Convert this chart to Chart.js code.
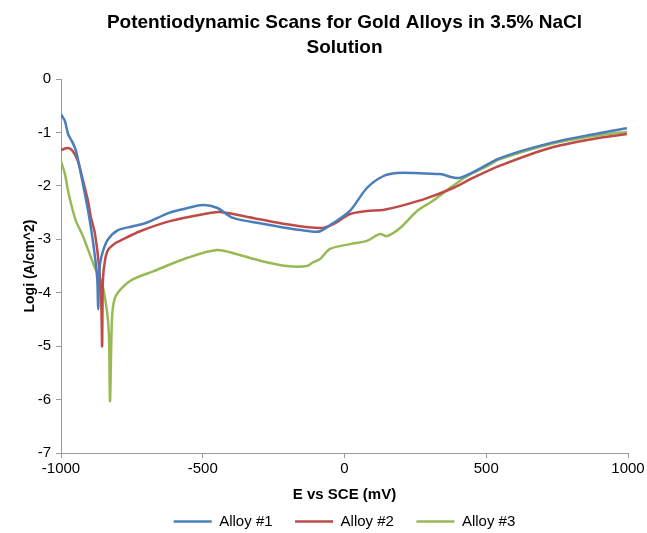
<!DOCTYPE html>
<html>
<head>
<meta charset="utf-8">
<script src="https://cdn.jsdelivr.net/npm/chart.js@4.4.1/dist/chart.umd.min.js"></script>
<style>
  html, body { margin: 0; padding: 0; background: #fff; }
  #wrap { width: 647px; height: 533px; }
</style>
</head>
<body>
<div id="wrap"><canvas id="scanChart"></canvas></div>
<script>
// E vs SCE (mV) and log i values
const alloy1E = [-1000, -986, -975, -958, -947, -925, -900, -882, -872, -869, -866, -862, -852, -834, -799, -750, -704, -616, -556, -499, -450, -393, -298, -203, -122, -86, -41, 19, 79, 136, 185, 250, 337, 407, 549, 725, 901, 996];
const alloy1Log = [-0.66, -0.79, -1.03, -1.2, -1.35, -1.9, -2.6, -3.25, -3.75, -4.31, -3.75, -3.45, -3.22, -3.0, -2.83, -2.76, -2.7, -2.5, -2.42, -2.36, -2.41, -2.6, -2.7, -2.79, -2.85, -2.85, -2.7, -2.47, -2.04, -1.82, -1.76, -1.76, -1.78, -1.85, -1.48, -1.2, -1.01, -0.92];

const alloy2E = [-1000, -975, -958, -940, -922, -905, -894, -880, -866, -858, -855, -852, -845, -834, -810, -792, -721, -616, -499, -439, -323, -203, -86, -41, 19, 79, 136, 196, 291, 383, 453, 549, 725, 901, 996];
const alloy2Log = [-1.33, -1.29, -1.35, -1.54, -1.91, -2.28, -2.6, -2.9, -3.5, -4.2, -5.0, -3.75, -3.4, -3.2, -3.08, -3.03, -2.85, -2.66, -2.53, -2.49, -2.6, -2.72, -2.79, -2.72, -2.53, -2.47, -2.45, -2.38, -2.23, -2.04, -1.85, -1.62, -1.29, -1.1, -1.03];

const alloy3E = [-1000, -986, -975, -958, -947, -922, -880, -855, -838, -831, -827, -820, -810, -785, -750, -675, -556, -450, -379, -298, -203, -132, -111, -86, -51, 19, 79, 125, 150, 196, 256, 312, 372, 432, 503, 549, 725, 901, 996];
const alloy3Log = [-1.54, -1.78, -2.1, -2.47, -2.66, -2.95, -3.54, -3.84, -4.34, -4.78, -6.03, -4.47, -4.1, -3.91, -3.76, -3.6, -3.35, -3.2, -3.28, -3.4, -3.5, -3.5, -3.43, -3.37, -3.18, -3.09, -3.03, -2.9, -2.94, -2.79, -2.47, -2.28, -2.04, -1.82, -1.63, -1.5, -1.22, -1.05, -0.99];

const seriesNames = ['Alloy #1', 'Alloy #2', 'Alloy #3'];
const seriesColors = ['#4a7ebb', '#be4b48', '#98b954'];
const xTicks = [-1000, -500, 0, 500, 1000];
const yTicks = [0, -1, -2, -3, -4, -5, -6, -7];

function toPoints(xs, ys) {
    return xs.map((x, i) => ({ x: x, y: ys[i] }));
}

const allSeries = [
    toPoints(alloy1E, alloy1Log),
    toPoints(alloy2E, alloy2Log),
    toPoints(alloy3E, alloy3Log)
];

const fontFam = '"Liberation Sans", Arial, sans-serif';
const axisColor = '#9a9a9a';

new Chart(document.getElementById('scanChart'), {
    type: 'scatter',
    data: {
        datasets: allSeries.map((pts, i) => ({
            label: seriesNames[i],
            data: pts,
            showLine: true,
            borderColor: seriesColors[i],
            backgroundColor: seriesColors[i],
            borderWidth: 2.5,
            pointRadius: 0,
            pointHoverRadius: 0,
            tension: 0.3
        }))
    },
    options: {
        responsive: true,
        maintainAspectRatio: false,
        animation: false,
        layout: { padding: { left: 22, right: 19, top: 0, bottom: -6 } },
        plugins: {
            tooltip: { enabled: false },
            title: {
                display: true,
                fullSize: false,
                text: ['Potentiodynamic Scans for Gold Alloys in 3.5% NaCl', 'Solution'],
                color: '#000',
                font: { family: fontFam, size: 19, weight: 'bold', lineHeight: 1.316 },
                padding: { top: 10, bottom: 19 }
            },
            legend: {
                position: 'bottom',
                fullSize: false,
                labels: {
                    usePointStyle: true,
                    pointStyle: 'line',
                    pointStyleWidth: 38,
                    color: '#000',
                    padding: 10,
                    font: { family: fontFam, size: 15 },
                    // a bit more room between the legend entries, like the original
                    generateLabels: chart => {
                        const items = Chart.defaults.plugins.legend.labels.generateLabels(chart);
                        items.forEach((it, i) => {
                            if (i < items.length - 1) it.text = it.text + '   ';
                        });
                        return items;
                    }
                }
            }
        },
        scales: {
            x: {
                type: 'linear',
                min: -1000,
                max: 1000,
                afterBuildTicks: axis => { axis.ticks = xTicks.map(v => ({ value: v })); },
                ticks: {
                    color: '#000',
                    font: { family: fontFam, size: 15 },
                    padding: 2,
                    callback: v => String(v)
                },
                grid: { drawOnChartArea: false, drawTicks: true, tickLength: 5, color: axisColor },
                border: { color: axisColor },
                title: {
                    display: true,
                    text: 'E vs SCE (mV)',
                    color: '#000',
                    font: { family: fontFam, size: 15, weight: 'bold' },
                    padding: { top: 6, bottom: 0 }
                }
            },
            y: {
                type: 'linear',
                min: -7,
                max: 0,
                afterBuildTicks: axis => { axis.ticks = yTicks.map(v => ({ value: v })); },
                afterFit: axis => { axis.width = 39; },
                ticks: {
                    color: '#000',
                    font: { family: fontFam, size: 15 },
                    padding: 5,
                    callback: v => String(v)
                },
                grid: { drawOnChartArea: false, drawTicks: true, tickLength: 5, color: axisColor },
                border: { color: axisColor },
                title: {
                    display: true,
                    text: 'Logi (A/cm^2)',
                    color: '#000',
                    font: { family: fontFam, size: 14, weight: 'bold' },
                    padding: { top: 0, bottom: 2 }
                }
            }
        }
    }
});
</script>
</body>
</html>
